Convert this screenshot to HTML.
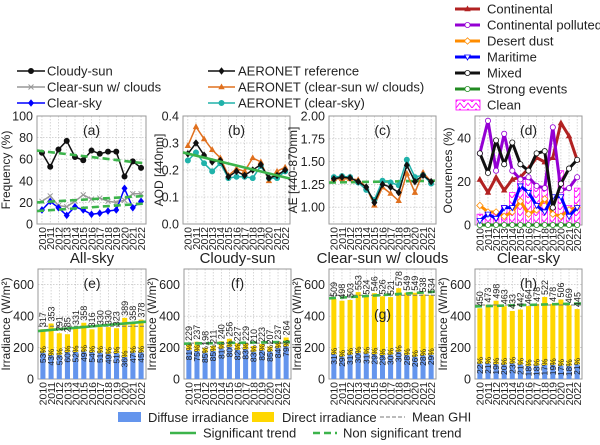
<!DOCTYPE html>
<html><head><meta charset="utf-8"><style>
body{margin:0;background:#fff}
svg{display:block;font-family:"Liberation Sans","DejaVu Sans",sans-serif}
</style></head><body>
<svg id="c" width="600" height="445" viewBox="0 0 600 445" xmlns="http://www.w3.org/2000/svg">
<defs>
<pattern id="hatch" width="8" height="6" patternUnits="userSpaceOnUse">
<rect width="8" height="6" fill="#fff"/>
<path d="M0 6 L4 1 L8 6" fill="none" stroke="#ff00ff" stroke-width="0.9"/>
</pattern>
</defs>
</svg>
<script>
const years=["2010","2011","2012","2013","2014","2015","2016","2017","2018","2019","2020","2021","2022"];
// (a) frequency
const freqCloudy=[66,53,69,77,62,59,68,65,67,67,44,58,52];
const freqClearSunClouds=[21,26,17,16,21,27,23,24,21,20,22,28,28];
const freqClearSky=[13,21,15,8,16,13,9,10,12,13,33,15,21];
const trendA=[[68,56],[20,26],[12,19]];
// (b) AOD
const aodRef=[0.26,0.30,0.255,0.23,0.235,0.175,0.195,0.18,0.20,0.22,0.17,0.18,0.20];
const aodClearSun=[0.29,0.36,0.315,0.275,0.245,0.18,0.205,0.195,0.245,0.23,0.16,0.195,0.21];
const aodClearSky=[0.235,0.265,0.225,0.195,0.225,0.17,0.175,0.175,0.17,0.215,0.17,0.17,0.195];
const trendB=[0.265,0.168];
// (c) AE
const aeRef=[1.31,1.33,1.32,1.28,1.22,1.05,1.25,1.22,1.16,1.46,1.28,1.35,1.28];
const aeClearSun=[1.31,1.31,1.31,1.30,1.22,1.02,1.22,1.15,1.07,1.37,1.16,1.38,1.28];
const aeClearSky=[1.33,1.34,1.33,1.27,1.19,1.08,1.29,1.27,1.24,1.52,1.33,1.35,1.26];
const trendC=[1.27,1.29];
// (d) occurrences
const occContinental=[21,15,22,16,21,22,26,31,29,31,47,41,30];
const occPolluted=[33,48,25,42,25,21,22,18,17,45,16,17,22];
const occDust=[9,6,6,4,6,11,5,7,12,5,4,7,8];
const occMaritime=[2,5,3,8,8,18,15,9,6,13,13,4,8];
const occMixed=[33,24,39,28,38,28,25,33,34,8,19,26,30];
const occStrong=[0,0,0,0,0,0,0,0,0,0,0,0,0];
const occClean=[5,6,6,9,15,22,21,18,18,8,25,9,17];
// irradiance panels
const totE=[317,353,291,285,331,358,316,330,330,323,389,358,378];
const pctE=[53,43,53,60,52,49,54,51,49,51,36,47,45];
const trendE=[305,365];
const totF=[229,237,198,211,240,256,227,229,210,223,207,237,264];
const pctF=[81,75,85,85,81,80,82,83,83,82,85,84,79];
const trendF=[225,236];
const totG=[509,498,503,553,524,546,526,521,578,549,549,538,534];
const pctG=[31,29,31,30,31,29,29,30,30,28,26,28,29];
const trendG=[513,556];
const totH=[450,473,498,463,433,442,464,478,522,478,506,469,445];
const pctH=[22,21,19,20,23,21,18,18,17,19,17,18,21];
const trendH=[462,481];

const svg=document.getElementById('c');
const NS="http://www.w3.org/2000/svg";
function mk(tag,at,parent){const e=document.createElementNS(NS,tag);for(const k in at)e.setAttribute(k,at[k]);(parent||svg).appendChild(e);return e;}
function txt(s,x,y,size,at){const e=mk('text',Object.assign({x:x,y:y,'font-size':size,fill:'#222'},at||{}));e.textContent=s;return e;}

function panel(name,L,R,T,B,ymin,ymax,ticks,fmt,ylabel,labOff,letter,title){
  const g=mk('g',{});
  
  
  const X=i=>L+(i+0.6)/13.2*(R-L);
  const Y=v=>B-(v-ymin)/(ymax-ymin)*(B-T);
  years.forEach((y,i)=>{
    const l=mk('line',{x1:X(i),x2:X(i),y1:T,y2:B,stroke:'#bbb','stroke-width':0.6,'stroke-dasharray':'1.5,1.5'},g);
    
    const t=txt(y,0,0,10.5,{transform:`translate(${X(i)+3.8},${B+3}) rotate(-90)`,'text-anchor':'end'});
    
  });
  ticks.forEach(v=>{
    const l=mk('line',{x1:L,x2:R,y1:Y(v),y2:Y(v),stroke:'#bbb','stroke-width':0.6,'stroke-dasharray':'1.5,1.5'},g);
    
    const t=txt(fmt(v),L-4,Y(v)+4.5,12.5,{'text-anchor':'end'});
    
  });
  const f=mk('rect',{x:L,y:T,width:R-L,height:B-T,fill:'none',stroke:'#999','stroke-width':1});
  
  const yl=txt(ylabel,0,0,12,{transform:`translate(${L-labOff},${(T+B)/2}) rotate(-90)`,'text-anchor':'middle'});
  
  if(title){const tt=txt(title,(L+R)/2,T-6,15,{'text-anchor':'middle'});}
  return {X,Y,L,R,T,B,letter};
}
function letterText(p,dy){const t=txt(p.letter,(p.L+p.R)/2,p.T+(dy||19),14,{'text-anchor':'middle'});}
function marker(type,x,y,color,fill,sz){
  let e;
  if(type==='o')e=mk('circle',{cx:x,cy:y,r:sz||2.6,fill:fill||color,stroke:color,'stroke-width':0.8});
  else if(type==='D')e=mk('path',{d:`M${x} ${y-3.8}L${x+3} ${y}L${x} ${y+3.8}L${x-3} ${y}Z`,fill:color});
  else if(type==='^')e=mk('path',{d:`M${x} ${y-3.5}L${x+3.2} ${y+2.3}L${x-3.2} ${y+2.3}Z`,fill:color});
  else if(type==='x')e=mk('path',{d:`M${x-2.5} ${y-2.5}L${x+2.5} ${y+2.5}M${x-2.5} ${y+2.5}L${x+2.5} ${y-2.5}`,stroke:color,'stroke-width':1});
  else if(type==='v')e=mk('path',{d:`M${x} ${y+3}L${x+2.8} ${y-2}L${x-2.8} ${y-2}Z`,fill:'#fff',stroke:color,'stroke-width':0.8});
  else if(type==='d')e=mk('path',{d:`M${x} ${y-3.2}L${x+3.2} ${y}L${x} ${y+3.2}L${x-3.2} ${y}Z`,fill:'#fff',stroke:color,'stroke-width':0.8});
  
}
function series(p,vals,color,mtype,name,w,mfill){
  const d=vals.map((v,i)=>(i?'L':'M')+p.X(i).toFixed(1)+' '+p.Y(v).toFixed(1)).join('');
  const e=mk('path',{d:d,fill:'none',stroke:color,'stroke-width':w||1.5,'stroke-linejoin':'round'});
  
  vals.forEach((v,i)=>marker(mtype,p.X(i),p.Y(v),color,mfill));
}
function trend(p,a,b,dashed,name){
  const e=mk('line',{x1:p.L,x2:p.R,y1:p.Y(a),y2:p.Y(b),stroke:'#3cb44b','stroke-width':2.6,'stroke-dasharray':dashed?'7,4':'none'});
  
}

// Panel a
const pa=panel('panel-a-frequency',37,146,116,224,0,100,[0,20,40,60,80,100],v=>v,'Frequency (%)',27,'(a)');
series(pa,freqCloudy,'#111','o','line-cloudy-sun');
series(pa,freqClearSunClouds,'#999','x','line-clear-sun-clouds');
series(pa,freqClearSky,'#0000ff','D','line-clear-sky');
trendA.forEach(t=>trend(pa,t[0],t[1],true,'trend-a'));
letterText(pa);
// Panel b
const pb=panel('panel-b-aod',183,290,116,224,0,0.4,[0,0.1,0.2,0.3,0.4],v=>v.toFixed(1),'AOD [440nm]',20,'(b)');
series(pb,aodClearSun,'#e0701e','^','line-aod-clear-sun');
series(pb,aodClearSky,'#20b2aa','o','line-aod-clear-sky');
series(pb,aodRef,'#111','D','line-aod-reference');
trend(pb,trendB[0],trendB[1],false,'trend-b');
letterText(pb);
// Panel c
const pc=panel('panel-c-ae',329,436,116,224,0.815,2.0,[1.0,1.25,1.5,1.75,2.0],v=>v.toFixed(2),'AE [440-870nm]',32,'(c)');
trend(pc,trendC[0],trendC[1],true,'trend-c');
series(pc,aeClearSun,'#e0701e','^','line-ae-clear-sun');
series(pc,aeClearSky,'#20b2aa','o','line-ae-clear-sky');
series(pc,aeRef,'#111','D','line-ae-reference');
letterText(pc);
// Panel d
const pd=panel('panel-d-occurrences',475,582,116,225,0,50.2,[0,20,40],v=>v,'Occurences (%)',23,'(d)');
occClean.forEach((v,i)=>{const w=(pd.R-pd.L)/13.2*0.7;const r=mk('rect',{x:pd.X(i)-w/2,y:pd.Y(v),width:w,height:pd.Y(0)-pd.Y(v),fill:'url(#hatch)',stroke:'#ff00ff','stroke-width':0.7});
});
series(pd,occStrong,'#228b22','o','line-strong-events',3,'#fff');
series(pd,occDust,'#ff8c00','d','line-desert-dust',3);
series(pd,occMaritime,'#0000ff','v','line-maritime',3);
series(pd,occContinental,'#b22222','^','line-continental',3);
series(pd,occPolluted,'#9400d3','o','line-continental-polluted',3,'#fff');
series(pd,occMixed,'#111','o','line-mixed',3,'#fff');
letterText(pd);

// irradiance panels
function irr(name,L,R,tot,pct,tr,sig,letter,title,ldy){
  const p=panel(name,L,R,269,379,0,700,[0,200,400,600],v=>v,'Irradiance (W/m²)',28,letter,title);
  const w=(R-L)/13.2*0.62;
  tot.forEach((t,i)=>{
    const d=t*pct[i]/100;
    const r1=mk('rect',{x:p.X(i)-w/2,y:p.Y(d),width:w,height:p.Y(0)-p.Y(d),fill:'#6495ed'});
    
    const r2=mk('rect',{x:p.X(i)-w/2,y:p.Y(t),width:w,height:p.Y(d)-p.Y(t),fill:'#ffd700'});
    
  });
  const mean=tot.reduce((a,b)=>a+b,0)/tot.length;
  const m=mk('line',{x1:L,x2:R,y1:p.Y(mean),y2:p.Y(mean),stroke:'#777','stroke-width':1,'stroke-dasharray':'4,2'});
  
  trend(p,tr[0],tr[1],!sig,'trend-'+letter);
  tot.forEach((t,i)=>{
    const d=t*pct[i]/100;
    const a=txt(pct[i]+'%',0,0,8.5,{transform:`translate(${p.X(i)+3},${p.Y(d)+2}) rotate(-90)`,'text-anchor':'middle'});
    
    const b=txt(String(t),0,0,9,{transform:`translate(${p.X(i)+3.2},${p.Y(t)-2}) rotate(-90)`});
    
  });
  const lt=txt(letter,(L+R)/2,269+ldy,14,{'text-anchor':'middle'});
  
}
irr('panel-e-all-sky',38,146,totE,pctE,trendE,true,'(e)','All-sky',19);
irr('panel-f-cloudy-sun',184,291,totF,pctF,trendF,false,'(f)','Cloudy-sun',19);
irr('panel-g-clear-sun-clouds',329,436,totG,pctG,trendG,false,'(g)','Clear-sun w/ clouds',50);
irr('panel-h-clear-sky',475,582,totH,pctH,trendH,false,'(h)','Clear-sky',19);

// legends
function legLine(x1,x2,y,color,w,dash,mtype,mfill,label,tx,name){
  const g=mk('g',{});
  
  mk('line',{x1:x1,x2:x2,y1:y,y2:y,stroke:color,'stroke-width':w,'stroke-dasharray':dash||'none'},g);
  if(mtype)marker(mtype,(x1+x2)/2,y,color,mfill);
  const t=txt(label,tx,y+4.5,13);
}
legLine(17,45,71,'#111',1.5,null,'o',null,'Cloudy-sun',47,'legend-cloudy-sun');
legLine(17,45,87,'#999',1.5,null,'x',null,'Clear-sun w/ clouds',47,'legend-clear-sun-clouds');
legLine(17,45,103,'#0000ff',1.5,null,'D',null,'Clear-sky',47,'legend-clear-sky');
legLine(208,235,71,'#111',1.5,null,'D',null,'AERONET reference',238,'legend-aeronet-reference');
legLine(208,235,87,'#e0701e',1.5,null,'^',null,'AERONET (clear-sun w/ clouds)',238,'legend-aeronet-clear-sun');
legLine(208,235,103,'#20b2aa',1.5,null,'o',null,'AERONET (clear-sky)',238,'legend-aeronet-clear-sky');
legLine(455,480,9,'#b22222',3,null,'^',null,'Continental',487,'legend-continental');
legLine(455,480,25,'#9400d3',3,null,'o','#fff','Continental polluted',487,'legend-continental-polluted');
legLine(455,480,41,'#ff8c00',3,null,'d',null,'Desert dust',487,'legend-desert-dust');
legLine(455,480,57,'#0000ff',3,null,'v',null,'Maritime',487,'legend-maritime');
legLine(455,480,73,'#111',3,null,'o','#fff','Mixed',487,'legend-mixed');
legLine(455,480,89,'#228b22',3,null,'o','#fff','Strong events',487,'legend-strong-events');
{const r=mk('rect',{x:456,y:100,width:24,height:10,fill:'url(#hatch)',stroke:'#ff00ff','stroke-width':0.8});

txt('Clean',487,109.5,13);}
{const r=mk('rect',{x:118,y:412,width:23,height:10,fill:'#6495ed'});
txt('Diffuse irradiance',148,422,13);
const r2=mk('rect',{x:252,y:412,width:22,height:10,fill:'#ffd700'});
txt('Direct irradiance',282,422,13);}
legLine(380,405,417,'#777',1,'4,2',null,null,'Mean GHI',412,'legend-mean-ghi');
legLine(170,196,433,'#3cb44b',2.6,null,null,null,'Significant trend',203,'legend-significant-trend');
legLine(313,337,433,'#3cb44b',2.6,'7,4',null,null,'Non significant trend',343,'legend-non-significant-trend');
</script>
</body></html>
